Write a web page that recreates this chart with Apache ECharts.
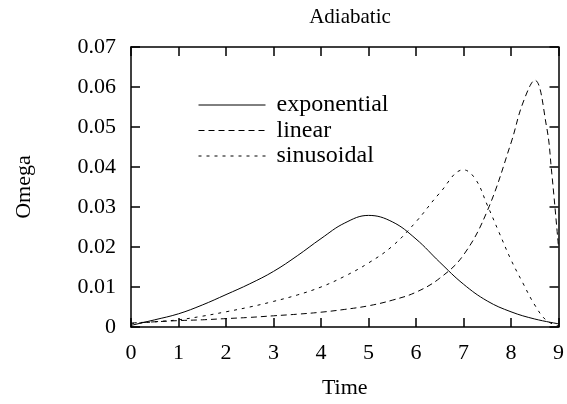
<!DOCTYPE html>
<html>
<head>
<meta charset="utf-8">
<script src="https://cdn.jsdelivr.net/npm/echarts@6/dist/echarts.min.js"></script>
<style>
html,body{margin:0;padding:0;background:#fff;}
#chart{width:567px;height:404px;}
</style>
</head>
<body>
<div id="chart"></div>
<script>
var xTicks = [0,1,2,3,4,5,6,7,8,9];
var yTicks = [0,0.01,0.02,0.03,0.04,0.05,0.06,0.07];

var expTime = [0,0.5,1,1.5,2,2.5,3,3.5,4,4.5,5,5.5,6,6.5,7,7.5,8,8.5,9];
var expVals = [0.0004,0.0018,0.0033,0.0055,0.0081,0.0108,0.0139,0.0178,0.0221,0.0260,0.0279,0.0263,0.0220,0.0162,0.0107,0.0065,0.0038,0.0020,0.0008];

var linTime = [0,0.5,1,1.5,2,2.5,3,3.5,4,4.5,5,5.5,6,6.5,7,7.5,8,8.25,8.5,8.75,8.85,9];
var linVals = [0.0010,0.0013,0.0016,0.0018,0.0021,0.0024,0.0028,0.0032,0.0037,0.0044,0.0053,0.0067,0.0087,0.0122,0.0180,0.0290,0.0460,0.0560,0.0617,0.0500,0.0395,0.0200];

var sinTime = [0,0.5,1,1.5,2,2.5,3,3.5,4,4.5,5,5.5,6,6.5,7,7.25,7.5,7.75,8,8.25,8.5,8.75,9];
var sinVals = [0.0008,0.0013,0.0018,0.0027,0.0038,0.0050,0.0064,0.0080,0.0100,0.0127,0.0160,0.0202,0.0263,0.0335,0.0393,0.0370,0.0305,0.0236,0.0168,0.0110,0.0055,0.0016,0.0003];

function pairs(xs, ys){ return xs.map(function(x,i){ return [x, ys[i]]; }); }

var FONT = 'Liberation Serif';
var chart = echarts.init(document.getElementById('chart'));
function axisLine(){ return {show:true, onZero:false, lineStyle:{color:'#000', width:1.5}}; }
function tick(){ return {show:true, inside:true, length:9, lineStyle:{color:'#000', width:1.5}}; }
chart.setOption({
  animation:false,
  backgroundColor:'#fff',
  title:{text:'Adiabatic', left:345, textAlign:'center', top:2,
    textStyle:{fontFamily:FONT, fontWeight:'normal', fontSize:21, color:'#000'}},
  grid:{left:131, right:5, top:47, bottom:75, containLabel:false},
  legend:{orient:'vertical', left:193, top:88, itemWidth:67, itemHeight:14, itemGap:1.5,
    itemStyle:{opacity:0}, lineStyle:{width:1},
    textStyle:{fontFamily:FONT, fontSize:24, color:'#000', padding:[0,0,0,6]},
    data:['exponential','linear','sinusoidal']},
  xAxis:[{type:'value', min:0, max:9, interval:1, show:true, name:'Time', nameLocation:'middle', nameGap:50,
    nameTextStyle:{fontFamily:FONT, fontSize:22, color:'#000'},
    axisLine:axisLine(), axisTick:tick(), splitLine:{show:false},
    axisLabel:{fontFamily:FONT, fontSize:22, color:'#000', margin:15}},
   {type:'value', position:'top', min:0, max:9, interval:1, show:true,
    axisLine:axisLine(), axisTick:tick(), splitLine:{show:false}, axisLabel:{show:false}}],
  yAxis:[{type:'value', min:0, max:0.07, interval:0.01, show:true, name:'Omega', nameLocation:'middle', nameGap:96,
    nameTextStyle:{fontFamily:FONT, fontSize:22, color:'#000'},
    axisLine:axisLine(), axisTick:tick(), splitLine:{show:false},
    axisLabel:{fontFamily:FONT, fontSize:22, color:'#000', margin:15,
      formatter:function(v){ return v===0 ? '0' : v.toFixed(2); }}},
   {type:'value', position:'right', min:0, max:0.07, interval:0.01, show:true,
    axisLine:axisLine(), axisTick:tick(), splitLine:{show:false}, axisLabel:{show:false}}],
  series:[
    {name:'exponential', type:'line', data:pairs(expTime, expVals), smooth:0.4, symbol:'none',
     itemStyle:{color:'#000'}, lineStyle:{color:'#000', width:1, type:'solid'}},
    {name:'linear', type:'line', data:pairs(linTime, linVals), smooth:0.4, symbol:'none',
     itemStyle:{color:'#000'}, lineStyle:{color:'#000', width:1, type:[6,4]}},
    {name:'sinusoidal', type:'line', data:pairs(sinTime, sinVals), smooth:0.4, symbol:'none',
     itemStyle:{color:'#000'}, lineStyle:{color:'#000', width:1, type:[3,5]}}
  ]
});
</script>
</body>
</html>
